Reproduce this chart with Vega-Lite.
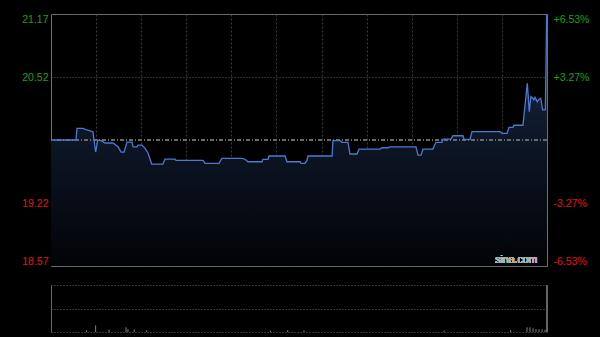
{
  "$schema": "https://vega.github.io/schema/vega-lite/v6.json",
  "autosize": {"type": "none"},
  "padding": {"left": 51, "top": 14, "right": 53, "bottom": 323},
  "background": "#000000",
  "config": {
    "font": "Liberation Sans",
    "view": {"stroke": null},
    "axis": {"labelFont": "Liberation Sans"}
  },
  "datasets": {
    "price": [
      {"t": 0, "p": 19.87}, {"t": 16.6, "p": 19.87}, {"t": 17.3, "p": 19.99}, {"t": 21.3, "p": 19.99},
      {"t": 23.8, "p": 19.973}, {"t": 27.9, "p": 19.956}, {"t": 29.7, "p": 19.746}, {"t": 31.1, "p": 19.87},
      {"t": 33.7, "p": 19.86}, {"t": 35.9, "p": 19.839}, {"t": 41.2, "p": 19.839}, {"t": 44.6, "p": 19.8},
      {"t": 46.6, "p": 19.746}, {"t": 48.6, "p": 19.746}, {"t": 50.6, "p": 19.849}, {"t": 53.9, "p": 19.849},
      {"t": 54.6, "p": 19.8}, {"t": 57.2, "p": 19.8}, {"t": 57.9, "p": 19.818}, {"t": 60.5, "p": 19.818},
      {"t": 62.5, "p": 19.787}, {"t": 64.5, "p": 19.736}, {"t": 67, "p": 19.622}, {"t": 74.5, "p": 19.622},
      {"t": 75.8, "p": 19.674}, {"t": 82.5, "p": 19.674}, {"t": 83.2, "p": 19.66}, {"t": 101.1, "p": 19.66},
      {"t": 102.5, "p": 19.63}, {"t": 111.8, "p": 19.63}, {"t": 113.6, "p": 19.681}, {"t": 126.9, "p": 19.681},
      {"t": 129.1, "p": 19.672}, {"t": 131.1, "p": 19.646}, {"t": 140.4, "p": 19.646}, {"t": 141, "p": 19.671},
      {"t": 144.4, "p": 19.671}, {"t": 145, "p": 19.705}, {"t": 155.7, "p": 19.705}, {"t": 157, "p": 19.646},
      {"t": 165.7, "p": 19.646}, {"t": 166.3, "p": 19.63}, {"t": 169, "p": 19.63}, {"t": 170.3, "p": 19.66},
      {"t": 171, "p": 19.705}, {"t": 187, "p": 19.705}, {"t": 187.6, "p": 19.863}, {"t": 192.3, "p": 19.863},
      {"t": 193.6, "p": 19.846}, {"t": 197.6, "p": 19.846}, {"t": 198.9, "p": 19.726}, {"t": 203.6, "p": 19.726},
      {"t": 204.9, "p": 19.777}, {"t": 218.9, "p": 19.777}, {"t": 220.2, "p": 19.79}, {"t": 224.2, "p": 19.79},
      {"t": 225.5, "p": 19.8}, {"t": 242.8, "p": 19.8}, {"t": 244.2, "p": 19.715}, {"t": 246.2, "p": 19.715},
      {"t": 247.5, "p": 19.777}, {"t": 254.1, "p": 19.777}, {"t": 256.1, "p": 19.846}, {"t": 260.1, "p": 19.846},
      {"t": 260.8, "p": 19.88}, {"t": 266.1, "p": 19.88}, {"t": 267.4, "p": 19.914}, {"t": 274.1, "p": 19.914},
      {"t": 274.8, "p": 19.877}, {"t": 278.8, "p": 19.877}, {"t": 280.1, "p": 19.956}, {"t": 298.7, "p": 19.956},
      {"t": 300.1, "p": 19.939}, {"t": 303.4, "p": 19.939}, {"t": 304.7, "p": 20.001}, {"t": 307.4, "p": 20.001},
      {"t": 308, "p": 20.022}, {"t": 314, "p": 20.022}, {"t": 316.9, "p": 20.455}, {"t": 318.2, "p": 20.162},
      {"t": 319.3, "p": 20.317}, {"t": 320.5, "p": 20.3}, {"t": 321.3, "p": 20.283}, {"t": 322, "p": 20.31},
      {"t": 323.5, "p": 20.265}, {"t": 324.7, "p": 20.29}, {"t": 325.8, "p": 20.3}, {"t": 327.1, "p": 20.18},
      {"t": 328.9, "p": 20.18}, {"t": 329.8, "p": 21.16}, {"t": 330, "p": 21.16}
    ],
    "volume": [
      {"t": 23.6, "v": 4}, {"t": 29.7, "v": 14}, {"t": 38.6, "v": 5}, {"t": 49.9, "v": 10},
      {"t": 51.2, "v": 6}, {"t": 55.4, "v": 5}, {"t": 63.7, "v": 4}, {"t": 146, "v": 3},
      {"t": 157.5, "v": 4}, {"t": 168.3, "v": 3}, {"t": 261.5, "v": 3}, {"t": 305.8, "v": 4},
      {"t": 316.7, "v": 10}, {"t": 318.7, "v": 10}, {"t": 320.7, "v": 8}, {"t": 322.7, "v": 6},
      {"t": 324.7, "v": 6}, {"t": 326.7, "v": 6}, {"t": 328.7, "v": 5}
    ]
  },
  "bounds": "flush",
  "spacing": 19,
  "vconcat": [
    {
      "width": 496,
      "height": 252,
      "view": {"stroke": "#707070", "strokeWidth": 1},
      "data": {"name": "price"},
      "resolve": {"axis": {"y": "independent"}},
      "layer": [
        {
          "mark": {
            "type": "area",
            "color": {
              "gradient": "linear", "x1": 0, "y1": 0, "x2": 0, "y2": 1,
              "stops": [
                {"offset": 0, "color": "#1c2c4a"},
                {"offset": 0.5, "color": "#0d1627"},
                {"offset": 1, "color": "#020306"}
              ]
            }
          },
          "encoding": {
            "x": {
              "field": "t", "type": "quantitative",
              "scale": {"domain": [0, 330], "nice": false},
              "axis": {
                "values": [30, 60, 90, 120, 150, 180, 210, 240, 270, 300],
                "grid": true, "gridColor": "#3a3a3a", "gridDash": [2, 2],
                "labels": false, "ticks": false, "domain": false, "title": null
              }
            },
            "y": {
              "field": "p", "type": "quantitative",
              "scale": {"domain": [18.572, 21.168], "nice": false, "zero": false},
              "axis": {
                "orient": "left",
                "values": [18.572, 19.221, 20.519, 21.168],
                "format": ".2f",
                "grid": true, "gridColor": "#5a5a5a", "gridDash": [1, 2],
                "ticks": false, "domain": false, "title": null,
                "labelFlush": true, "labelPadding": 3, "labelFontSize": 10.5,
                "labelColor": {"condition": {"test": "datum.value > 19.87", "value": "#18a018"}, "value": "#e01414"}
              }
            },
            "y2": {"datum": 18.572}
          }
        },
        {
          "mark": {"type": "rule", "color": "#6a6a6a", "strokeDash": [4, 2, 1, 2], "strokeWidth": 1},
          "encoding": {"y": {"datum": 19.87, "type": "quantitative", "axis": null}}
        },
        {
          "mark": {"type": "line", "color": "#4b7bd0", "strokeWidth": 1.3},
          "encoding": {
            "x": {"field": "t", "type": "quantitative"},
            "y": {
              "field": "p", "type": "quantitative",
              "axis": {
                "orient": "right",
                "values": [18.572, 19.221, 20.519, 21.168],
                "labelExpr": "(datum.value > 19.87 ? '+' : '-') + format(abs(datum.value - 19.87) / 19.87 * 100, '.2f') + '%'",
                "grid": false, "ticks": false, "domain": false, "title": null,
                "labelFlush": true, "labelPadding": 6, "labelFontSize": 10.5,
                "labelColor": {"condition": {"test": "datum.value > 19.87", "value": "#18a018"}, "value": "#e01414"}
              }
            }
          }
        },
        {
          "mark": {"type": "text", "text": "sina.com", "color": "#b0b0b0", "fontSize": 10.5, "align": "right", "baseline": "bottom", "font": "Liberation Sans"},
          "encoding": {
            "x": {"datum": 323.5, "type": "quantitative"},
            "y": {"datum": 18.58, "type": "quantitative", "axis": null}
          }
        }
      ]
    },
    {
      "width": 496,
      "height": 47,
      "data": {"name": "volume"},
      "layer": [
        {
          "mark": {"type": "rule", "color": "#808080", "strokeWidth": 1},
          "encoding": {
            "x": {"field": "t", "type": "quantitative", "scale": {"domain": [0, 330], "nice": false}, "axis": null},
            "y": {
              "field": "v", "type": "quantitative",
              "scale": {"domain": [0, 100], "nice": false},
              "axis": {
                "values": [0, 50, 100], "grid": true, "gridColor": "#6a6a6a", "gridDash": [1, 2],
                "labels": false, "ticks": false, "domain": true, "domainColor": "#666666", "title": null
              }
            },
            "y2": {"datum": 0}
          }
        },
        {
          "mark": {"type": "rule", "color": "#666666", "strokeWidth": 1},
          "encoding": {"x": {"datum": 330, "type": "quantitative"}}
        }
      ]
    }
  ]
}
